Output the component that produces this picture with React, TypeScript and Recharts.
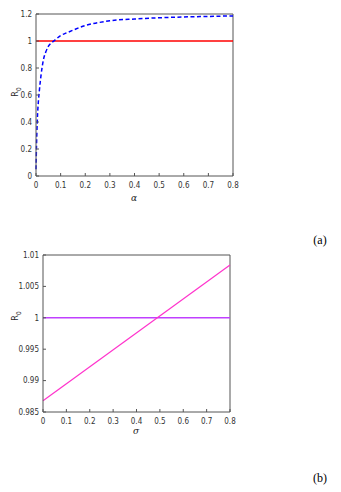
import { LineChart, Line, XAxis, YAxis, ReferenceLine } from 'recharts';

// panel (a): R0 against alpha
const alphaVals = [0, 0.002, 0.005, 0.01, 0.014, 0.02, 0.03, 0.04, 0.05, 0.065, 0.077, 0.1, 0.124, 0.15, 0.2, 0.25, 0.3, 0.4, 0.5, 0.6, 0.7, 0.8];
const r0Alpha = [0.05, 0.22, 0.4, 0.56, 0.64, 0.74, 0.86, 0.92, 0.96, 0.99, 1.007, 1.04, 1.06, 1.08, 1.115, 1.135, 1.15, 1.163, 1.172, 1.178, 1.182, 1.186];
const alphaTicks = [0, 0.1, 0.2, 0.3, 0.4, 0.5, 0.6, 0.7, 0.8];
const r0AlphaTicks = [0, 0.2, 0.4, 0.6, 0.8, 1, 1.2];

// panel (b): R0 against sigma
const sigmaVals = [0, 0.8];
const r0Sigma = [0.9868, 1.0084];
const sigmaTicks = [0, 0.1, 0.2, 0.3, 0.4, 0.5, 0.6, 0.7, 0.8];
const r0SigmaTicks = [0.985, 0.99, 0.995, 1, 1.005, 1.01];

const dataA = alphaVals.map((a, i) => ({ x: a, r0: r0Alpha[i] }));
const dataB = sigmaVals.map((s, i) => ({ x: s, r0: r0Sigma[i] }));

const font = '"DejaVu Sans Condensed", "Liberation Sans Narrow", "Liberation Sans", Arial, sans-serif';
const axisColor = '#555';
const tickStyle = { fontSize: 8, fill: '#333', fontFamily: font };

function R0Label({ x, y }: { x: number; y: number }) {
  return (
    <text x={x} y={y} transform={`rotate(-90 ${x} ${y})`} textAnchor="middle" fontFamily={font} fontSize={9} fill="#262626">
      R<tspan fontSize={6.5} dy={2.5}>0</tspan>
    </text>
  );
}

export default function App() {
  return (
    <div style={{ position: 'absolute', left: 0, top: 0, width: 341, height: 492, background: '#fff' }}>
      <div style={{ position: 'absolute', left: 0, top: 0 }}>
        <LineChart width={341} height={200} data={dataA} margin={{ top: 14, right: 108, bottom: 0, left: 0 }}>
          <XAxis dataKey="x" type="number" domain={[0, 0.8]} ticks={alphaTicks} tickFormatter={(v: number) => String(v)}
            stroke={axisColor} tickSize={-3} tickMargin={9} tick={tickStyle} height={24} />
          <YAxis type="number" domain={[0, 1.2]} ticks={r0AlphaTicks} tickFormatter={(v: number) => String(v)}
            stroke={axisColor} tickSize={-3} tickMargin={7} tick={tickStyle} width={36} />
          <ReferenceLine y={1.2} stroke={axisColor} />
          <ReferenceLine x={0.8} stroke={axisColor} />
          <ReferenceLine y={1} stroke="#ff0000" strokeWidth={1.6} />
          <Line dataKey="r0" type="monotone" stroke="#0000ff" strokeWidth={1.5} strokeDasharray="4 2.5" dot={false} isAnimationActive={false} />
        </LineChart>
      </div>
      <div style={{ position: 'absolute', left: 0, top: 240 }}>
        <LineChart width={341} height={200} data={dataB} margin={{ top: 15, right: 111, bottom: 0, left: 0 }}>
          <XAxis dataKey="x" type="number" domain={[0, 0.8]} ticks={sigmaTicks} tickFormatter={(v: number) => String(v)}
            stroke={axisColor} tickSize={-3} tickMargin={9} tick={tickStyle} height={28} />
          <YAxis type="number" domain={[0.985, 1.01]} ticks={r0SigmaTicks} tickFormatter={(v: number) => String(v)}
            stroke={axisColor} tickSize={-3} tickMargin={7} tick={tickStyle} width={43} />
          <ReferenceLine y={1.01} stroke={axisColor} />
          <ReferenceLine x={0.8} stroke={axisColor} />
          <ReferenceLine y={1} stroke="#c040ff" strokeWidth={1.6} />
          <Line dataKey="r0" type="linear" stroke="#ff33cc" strokeWidth={1.2} dot={false} isAnimationActive={false} />
        </LineChart>
      </div>
      <svg style={{ position: 'absolute', left: 0, top: 0, pointerEvents: 'none' }} width={341} height={492}>
        <R0Label x={18} y={92} />
        <text x={134} y={201} textAnchor="middle" fontFamily="DejaVu Serif, serif" fontStyle="italic" fontSize={9} fill="#262626">α</text>
        <R0Label x={18} y={316} />
        <text x={136} y={434} textAnchor="middle" fontFamily="DejaVu Serif, serif" fontStyle="italic" fontSize={9} fill="#262626">σ</text>
        <text x={320} y={244} textAnchor="middle" fontFamily="Liberation Serif, serif" fontSize={12} fill="#000">(a)</text>
        <text x={320} y={482} textAnchor="middle" fontFamily="Liberation Serif, serif" fontSize={12} fill="#000">(b)</text>
      </svg>
    </div>
  );
}
